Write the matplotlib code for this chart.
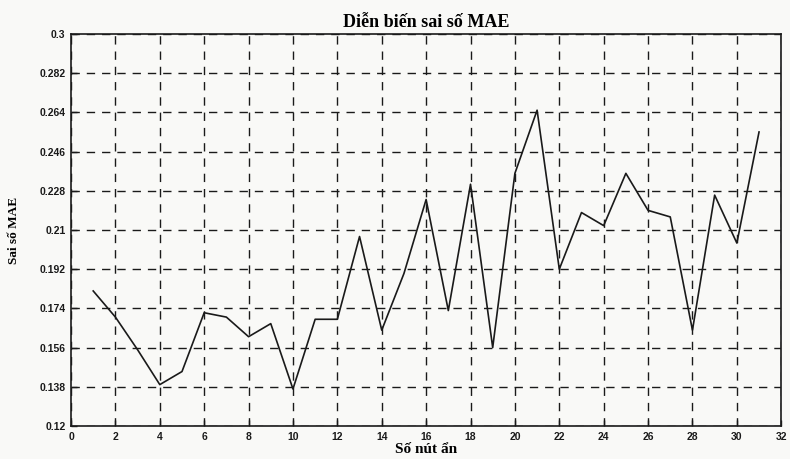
import matplotlib.pyplot as plt

# So nut an (hidden nodes) vs MAE
hidden_nodes = list(range(1, 32))
mae = [0.182, 0.170, 0.155, 0.139, 0.145, 0.172, 0.170, 0.161, 0.167, 0.137,
       0.169, 0.169, 0.207, 0.164, 0.190, 0.224, 0.173, 0.231, 0.156, 0.236,
       0.265, 0.192, 0.218, 0.212, 0.236, 0.219, 0.216, 0.164, 0.226, 0.204,
       0.255]

x_ticks = list(range(0, 33, 2))
y_ticks = [0.12, 0.138, 0.156, 0.174, 0.192, 0.21, 0.228, 0.246, 0.264, 0.282, 0.3]
y_tick_labels = ["0.12", "0.138", "0.156", "0.174", "0.192", "0.21", "0.228",
                 "0.246", "0.264", "0.282", "0.3"]

fig = plt.figure(figsize=(7.9, 4.59), dpi=100)
fig.patch.set_facecolor("#f9f9f7")
ax = fig.add_axes([0.0899, 0.0719, 0.8990, 0.8541])
ax.set_facecolor("#f9f9f7")

ax.plot(hidden_nodes, mae, color="#1a1a1a", linewidth=1.2)

ax.set_xlim(0, 32)
ax.set_ylim(0.12, 0.3)
ax.set_xticks(x_ticks)
ax.set_yticks(y_ticks)
ax.set_yticklabels(y_tick_labels)
ax.tick_params(direction="in", length=4, width=1, colors="#1a1a1a",
               labelsize=7.5, pad=4)
for lbl in ax.get_xticklabels() + ax.get_yticklabels():
    lbl.set_fontweight("bold")
    lbl.set_family("Liberation Sans")

ax.grid(True, color="#1a1a1a", linestyle=(0, (6, 5)), linewidth=1.0)
for spine in ax.spines.values():
    spine.set_linewidth(1.2)
    spine.set_color("#1a1a1a")

ax.set_title("Diễn biến sai số MAE", family="Liberation Serif",
             fontsize=13, fontweight="bold", pad=5)
ax.set_xlabel("Số nút ẩn", family="Liberation Serif", fontsize=11,
              fontweight="bold", labelpad=1)
ax.set_ylabel("Sai số MAE", family="Liberation Serif", fontsize=9.5,
              fontweight="bold", labelpad=14)

fig.savefig("out.png", dpi=100, facecolor=fig.get_facecolor())
